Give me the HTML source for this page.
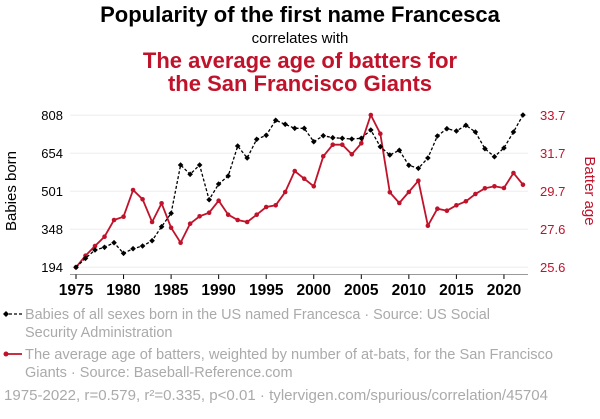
<!DOCTYPE html>
<html><head><meta charset="utf-8"><style>
body{margin:0;background:#fff;width:600px;height:414px;overflow:hidden;font-family:"Liberation Sans",Arial,sans-serif}
</style></head><body>
<svg width="600" height="414" xmlns="http://www.w3.org/2000/svg" font-family="Liberation Sans, Arial, sans-serif">
<text x="300" y="22" text-anchor="middle" font-size="22" font-weight="bold" fill="#000">Popularity of the first name Francesca</text>
<text x="300" y="43" text-anchor="middle" font-size="15" fill="#000">correlates with</text>
<text x="300" y="68" text-anchor="middle" font-size="22" font-weight="bold" fill="#c0132b">The average age of batters for</text>
<text x="300" y="91" text-anchor="middle" font-size="22" font-weight="bold" fill="#c0132b">the San Francisco Giants</text>
<g stroke="#eee" stroke-width="1">
<line x1="70" y1="115.3" x2="528" y2="115.3"/><line x1="70" y1="153.3" x2="528" y2="153.3"/><line x1="70" y1="191.3" x2="528" y2="191.3"/><line x1="70" y1="229.3" x2="528" y2="229.3"/><line x1="70" y1="267.3" x2="528" y2="267.3"/>
</g>
<line x1="70" y1="274.5" x2="528" y2="274.5" stroke="#999"/>
<g stroke="#000" id="ticks"></g>
<g font-size="13" fill="#000" text-anchor="end">
<text x="63" y="120">808</text><text x="63" y="158">654</text><text x="63" y="196">501</text><text x="63" y="234">348</text><text x="63" y="272">194</text>
</g>
<g font-size="13" fill="#c0132b">
<text x="540" y="120">33.7</text><text x="540" y="158">31.7</text><text x="540" y="196">29.7</text><text x="540" y="234">27.6</text><text x="540" y="272">25.6</text>
</g>
<text transform="translate(16,191) rotate(-90)" text-anchor="middle" font-size="15" fill="#000">Babies born</text>
<text transform="translate(585,191) rotate(90)" text-anchor="middle" font-size="15" fill="#c0132b">Batter age</text>
<g id="xl" font-size="15.5" font-weight="bold" text-anchor="middle" fill="#000"></g>
<polyline id="red" fill="none" stroke="#c0132b" stroke-width="1.8"/>
<g id="redp" fill="#c0132b"></g>
<polyline id="blk" fill="none" stroke="#000" stroke-width="1.3" stroke-dasharray="3,2"/>
<g id="blkp" fill="#000"></g>
<line x1="4" y1="314" x2="22" y2="314" stroke="#000" stroke-width="1.3" stroke-dasharray="3,2"/>
<path d="M6,311 L9,314 L6,317 L3,314Z" fill="#000"/>
<g font-size="14.5" fill="#aaa">
<text x="25" y="319" textLength="465" lengthAdjust="spacingAndGlyphs">Babies of all sexes born in the US named Francesca · Source: US Social</text>
<text x="25" y="337">Security Administration</text>
<text x="25" y="359" textLength="528" lengthAdjust="spacingAndGlyphs">The average age of batters, weighted by number of at-bats, for the San Francisco</text>
<text x="25" y="377">Giants · Source: Baseball-Reference.com</text>
<text x="4" y="400" textLength="544" lengthAdjust="spacingAndGlyphs">1975-2022, r=0.579, r²=0.335, p&lt;0.01 · tylervigen.com/spurious/correlation/45704</text>
</g>
<line x1="4" y1="354" x2="22" y2="354" stroke="#c0132b" stroke-width="1.8"/>
<circle cx="6" cy="354" r="2.5" fill="#c0132b"/>
</svg>
<script>
var B=[267.3,258.3,250,247.3,242.7,253.3,248.7,246,240.7,226.7,213.3,165,174.3,165,199.7,184,176,146,158,139.3,135.3,120.3,124.3,128.3,128.3,141.7,135.7,137.7,138.3,139,138.3,130,146.7,155,150.3,165.3,168.3,158,136,128.7,131,125.3,132,148.7,156.7,148,132,115];
var R=[267.3,255.7,246,236.7,220,216.7,190,199.3,222,203.3,227.7,242.7,223.7,216.3,212.7,200.7,214.7,220,222,214.7,207,205.3,192,171,178.7,186.3,156.3,144.7,144.7,154.3,143.3,115,133.7,192.3,203,192,180.7,225.7,208.7,210.7,205.3,201.3,194,188.3,186.3,188,173,184.7];
var ns="http://www.w3.org/2000/svg";function X(i){return 76+i*9.51}
function pts(a){return a.map(function(y,i){return X(i).toFixed(1)+","+y}).join(" ")}
document.getElementById("red").setAttribute("points",pts(R));
document.getElementById("blk").setAttribute("points",pts(B));
var rp=document.getElementById("redp"),bp=document.getElementById("blkp");
R.forEach(function(y,i){var c=document.createElementNS(ns,"circle");c.setAttribute("cx",X(i));c.setAttribute("cy",y);c.setAttribute("r",2.3);rp.appendChild(c)});
B.forEach(function(y,i){var p=document.createElementNS(ns,"path");var x=X(i);p.setAttribute("d","M"+x+","+(y-2.8)+"L"+(x+2.8)+","+y+"L"+x+","+(y+2.8)+"L"+(x-2.8)+","+y+"Z");bp.appendChild(p)});
var t=document.getElementById("ticks"),xl=document.getElementById("xl");
for(var k=0;k<=45;k+=5){var x=X(k);var l=document.createElementNS(ns,"line");l.setAttribute("x1",x);l.setAttribute("x2",x);l.setAttribute("y1",274.5);l.setAttribute("y2",279);t.appendChild(l);
var tx=document.createElementNS(ns,"text");tx.setAttribute("x",x);tx.setAttribute("y",295);tx.textContent=1975+k;xl.appendChild(tx)}
</script>
</body></html>
